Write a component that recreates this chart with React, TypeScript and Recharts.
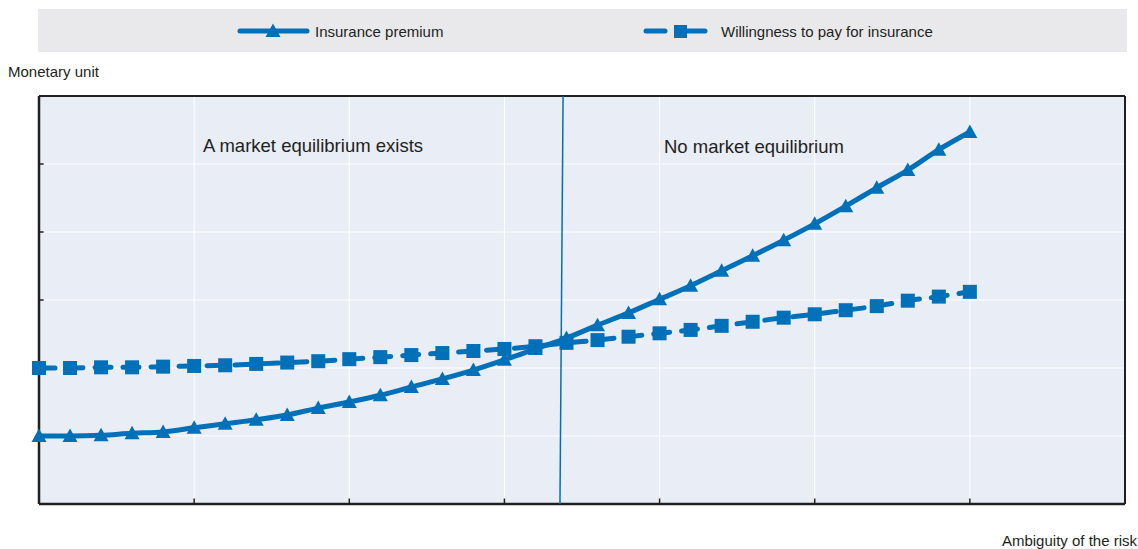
import React from 'react';
import {
  LineChart,
  Line,
  XAxis,
  YAxis,
  CartesianGrid,
  ReferenceLine,
} from 'recharts';

const BLUE = '#0070B8';
const INK = '#231F20';
const FONT = '"Liberation Sans", Arial, sans-serif';

// ambiguity steps along the x axis
const ambiguity = [0, 1, 2, 3, 4, 5, 6, 7, 8, 9, 10, 11, 12, 13, 14, 15, 16, 17, 18, 19, 20, 21, 22, 23, 24, 25, 26, 27, 28, 29, 30];
const premium = [1.0, 1.0, 1.01, 1.04, 1.06, 1.12, 1.18, 1.24, 1.31, 1.41, 1.5, 1.6, 1.72, 1.84, 1.97, 2.12, 2.28, 2.44, 2.63, 2.81, 3.01, 3.21, 3.43, 3.65, 3.88, 4.12, 4.38, 4.65, 4.91, 5.21, 5.47];
const willingness = [2.0, 2.0, 2.01, 2.01, 2.02, 2.03, 2.04, 2.06, 2.08, 2.1, 2.13, 2.16, 2.19, 2.22, 2.25, 2.28, 2.32, 2.37, 2.41, 2.46, 2.51, 2.56, 2.62, 2.68, 2.74, 2.79, 2.85, 2.91, 2.99, 3.05, 3.12];

const xTicks = [0, 5, 10, 15, 20, 25, 30, 35];
const yTicks = [0, 1, 2, 3, 4, 5, 6];
const xInnerTicks = [5, 10, 15, 20, 25, 30];
const yInnerTicks = [1, 2, 3, 4, 5];

// boundary between the two regimes (slightly tilted in the source)
const boundaryTop = 16.89;
const boundaryBottom = 16.79;

const data = ambiguity.map((a, i) => ({
  a,
  premium: premium[i],
  willingness: willingness[i],
}));

const TriangleDot = ({ cx, cy }: any) => (
  <path d={`M${cx},${cy - 7.5} L${cx + 7.5},${cy + 6} L${cx - 7.5},${cy + 6} Z`} fill={BLUE} />
);

const SquareDot = ({ cx, cy }: any) => (
  <rect x={cx - 7} y={cy - 7} width={14} height={14} fill={BLUE} />
);

export default function App() {
  return (
    <div style={{ position: 'absolute', left: 0, top: 0, width: 1138, height: 549, background: '#fff', fontFamily: FONT }}>
      <LineChart
        width={1138}
        height={549}
        data={data}
        margin={{ top: 96, right: 13, left: 39, bottom: 45 }}
      >
        <CartesianGrid stroke="#FFFFFF" strokeWidth={1} fill="#E9EDF6" fillOpacity={1} />
        <XAxis dataKey="a" type="number" domain={[0, 35]} ticks={xTicks} hide />
        <YAxis type="number" domain={[0, 6]} ticks={yTicks} hide />

        {/* inward tick marks */}
        {xInnerTicks.map((t) => (
          <ReferenceLine key={`xt${t}`} segment={[{ x: t, y: 0 }, { x: t, y: 0.08 }]} stroke={INK} strokeWidth={1.5} />
        ))}
        {yInnerTicks.map((t) => (
          <ReferenceLine key={`yt${t}`} segment={[{ x: 0, y: t }, { x: 0.15, y: t }]} stroke={INK} strokeWidth={1.5} />
        ))}

        {/* frame */}
        <ReferenceLine y={0} stroke={INK} strokeWidth={2.5} />
        <ReferenceLine x={0} stroke={INK} strokeWidth={2.5} />
        <ReferenceLine y={6} stroke={INK} strokeWidth={2} />
        <ReferenceLine x={35} stroke={INK} strokeWidth={2} />

        <ReferenceLine
          segment={[{ x: boundaryTop, y: 6 }, { x: boundaryBottom, y: 0 }]}
          stroke={BLUE}
          strokeWidth={1.5}
          ifOverflow="visible"
        />
        <Line
          type="monotone"
          dataKey="willingness"
          name="Willingness to pay for insurance"
          stroke={BLUE}
          strokeWidth={5}
          strokeDasharray="16 12"
          strokeLinecap="round"
          dot={<SquareDot />}
          activeDot={false}
          isAnimationActive={false}
        />
        <Line
          type="monotone"
          dataKey="premium"
          name="Insurance premium"
          stroke={BLUE}
          strokeWidth={5}
          dot={<TriangleDot />}
          activeDot={false}
          isAnimationActive={false}
        />
      </LineChart>

      <svg
        width={1138}
        height={549}
        style={{ position: 'absolute', left: 0, top: 0, pointerEvents: 'none' }}
        fontFamily={FONT}
      >
        {/* legend */}
        <rect x={38} y={9} width={1089} height={43} fill="#E9E9EC" />
        <line x1={240} x2={307} y1={31} y2={31} stroke={BLUE} strokeWidth={5} strokeLinecap="round" />
        <path d="M273,23.5 L280.5,37 L265.5,37 Z" fill={BLUE} />
        <text x={315} y={36.5} fontSize={15} fill={INK}>Insurance premium</text>

        <line x1={646} x2={665} y1={31} y2={31} stroke={BLUE} strokeWidth={5} strokeLinecap="round" />
        <line x1={680} x2={705} y1={31} y2={31} stroke={BLUE} strokeWidth={5} strokeLinecap="round" />
        <rect x={674} y={25} width={13} height={13} fill={BLUE} />
        <text x={721} y={36.5} fontSize={15} fill={INK}>Willingness to pay for insurance</text>

        {/* axis titles */}
        <text x={8} y={77} fontSize={15} fill={INK}>Monetary unit</text>
        <text x={1137} y={546} fontSize={15} fill={INK} textAnchor="end">Ambiguity of the risk</text>

        {/* regime annotations */}
        <text x={203} y={152} fontSize={18.5} fill={INK}>A market equilibrium exists</text>
        <text x={664} y={153} fontSize={18.5} fill={INK}>No market equilibrium</text>
      </svg>
    </div>
  );
}
